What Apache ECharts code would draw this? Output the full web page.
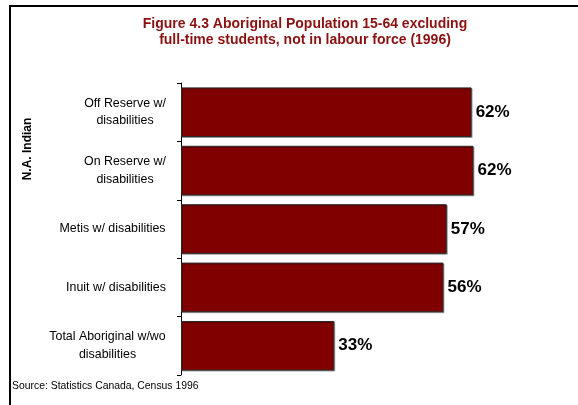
<!DOCTYPE html>
<html><head><meta charset="utf-8">
<script src="https://cdn.jsdelivr.net/npm/echarts@6/dist/echarts.min.js"></script>
<style>html,body{margin:0;padding:0;background:#fff}#c{width:578px;height:405px}</style>
</head><body><div id="c"></div>
<script>
const titleLines = ['Figure 4.3 Aboriginal Population 15-64 excluding', 'full-time students, not in labour force (1996)'];
const categories = ['Off Reserve w/\ndisabilities', 'On Reserve w/\ndisabilities', 'Metis w/ disabilities', 'Inuit w/ disabilities', 'Total Aboriginal w/wo\ndisabilities'];
const values = [62.0, 62.4, 56.7, 56.0, 32.7];
const groupLabel = 'N.A. Indian';
const sourceText = 'Source: Statistics Canada, Census 1996';

const FONT = 'Arial, "Liberation Sans", sans-serif';
const LABEL_SIZE = 12.4;
const ctx = document.createElement('canvas').getContext('2d');
ctx.font = LABEL_SIZE + 'px "Liberation Sans", Arial, sans-serif';
const rich = {};
categories.forEach((c, i) => {
  const w = Math.max(...c.split('\n').map(l => ctx.measureText(l).width));
  rich['l' + i] = { width: Math.ceil(w), align: 'center', fontSize: LABEL_SIZE, fontFamily: FONT, color: '#000', lineHeight: 17.5 };
});

const chart = echarts.init(document.getElementById('c'), null, { renderer: 'canvas' });
chart.setOption({
  animation: false,
  backgroundColor: '#fff',
  title: {
    text: titleLines.join('\n'),
    left: 300, top: 11, textAlign: 'center',
    textStyle: { fontFamily: FONT, fontSize: 14, fontWeight: 'bold', color: '#8b1010', lineHeight: 16 }
  },
  grid: { left: 181, top: 83, width: 375, height: 292, containLabel: false },
  xAxis: { type: 'value', min: 0, max: 80, show: false },
  yAxis: {
    type: 'category', data: categories, inverse: true,
    axisLine: { show: true, lineStyle: { color: '#000', width: 1 } },
    axisTick: { show: true, length: 4, lineStyle: { color: '#000' } },
    axisLabel: {
      margin: 15, align: 'right',
      formatter: (v, i) => v.split('\n').map(l => '{l' + i + '|' + l + '}').join('\n'),
      rich: rich
    }
  },
  series: [{
    type: 'bar', data: values, barCategoryGap: '15%',
    itemStyle: { color: '#800000', borderColor: '#2a2a2a', borderWidth: 1, shadowColor: 'rgba(0,0,0,0.3)', shadowOffsetX: 1, shadowOffsetY: 1 },
    label: { show: true, position: 'right', distance: 4, formatter: p => Math.round(p.value) + '%',
      fontFamily: FONT, fontSize: 17, fontWeight: 'bold', color: '#000' }
  }],
  graphic: [
    { type: 'line', shape: { x1: 9, y1: 6, x2: 578, y2: 6 }, style: { stroke: '#000', lineWidth: 2 } },
    { type: 'line', shape: { x1: 10, y1: 5, x2: 10, y2: 405 }, style: { stroke: '#000', lineWidth: 2 } },
    { type: 'text', x: 28, y: 149, rotation: Math.PI / 2,
      style: { text: groupLabel, font: 'bold 12px ' + FONT, fill: '#000', align: 'center', verticalAlign: 'middle' } },
    { type: 'text', x: 12, y: 386,
      style: { text: sourceText, font: '10.4px ' + FONT, fill: '#000', align: 'left', verticalAlign: 'middle' } }
  ]
});
</script>
</body></html>
